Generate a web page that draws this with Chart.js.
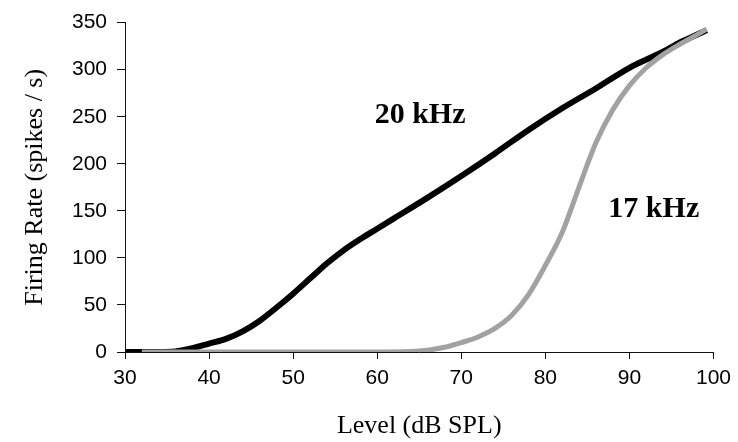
<!DOCTYPE html>
<html>
<head>
<meta charset="utf-8">
<title>Firing rate vs level</title>
<script src="https://cdn.jsdelivr.net/npm/chart.js@4/dist/chart.umd.min.js"></script>
<style>
  html, body { margin: 0; padding: 0; background: #fff; }
  #wrap { width: 738px; height: 442px; position: relative; }
</style>
</head>
<body>
<div id="wrap"><canvas id="c"></canvas></div>
<script>
// Sound level (dB SPL) and firing rate (spikes/s) for the 20 kHz tone
const level20 = [30, 32, 34, 36, 38, 40, 42, 44, 46, 48, 50, 52, 54, 56, 58, 60, 62, 66, 70, 74, 78, 82, 86, 90, 94, 96, 98, 99.2];
const rate20  = [0, 0, 0, 0.5, 4, 9, 14, 22, 33, 47, 62, 78, 94, 108, 120, 131, 142, 164, 187, 211, 236, 259, 280, 302, 319, 329, 337, 342];

// Sound level (dB SPL) and firing rate (spikes/s) for the 17 kHz tone
const level17 = [32, 40, 50, 60, 64, 66, 68, 70, 72, 74, 76, 78, 80, 82, 84, 86, 88, 90, 92, 94, 96, 98, 99.2];
const rate17  = [0, 0, 0, 0, 0.5, 2, 5, 10, 16, 25, 39, 61, 92, 127, 175, 222, 257, 283, 302, 316, 327, 337, 343];

const seriesNames = ['20 kHz', '17 kHz'];
const xTicks = [30, 40, 50, 60, 70, 80, 90, 100];
const yTicks = [0, 50, 100, 150, 200, 250, 300, 350];

// Where each curve's name is written, in data units
const nameAnchors = [
  { x: 65.1, y: 252 },
  { x: 92.9, y: 152 }
];

const toPoints = (xs, ys) => xs.map((x, i) => ({ x: x, y: ys[i] }));

const curveLabels = {
  id: 'curveLabels',
  afterDatasetsDraw(chart) {
    const { ctx, scales } = chart;
    ctx.save();
    ctx.fillStyle = '#000';
    ctx.font = 'bold 30px "Liberation Serif", "Times New Roman", serif';
    ctx.textAlign = 'center';
    ctx.textBaseline = 'middle';
    seriesNames.forEach((name, i) => {
      const a = nameAnchors[i];
      ctx.fillText(name, scales.x.getPixelForValue(a.x), scales.y.getPixelForValue(a.y));
    });
    ctx.restore();
  }
};

Chart.defaults.font.family = '"Liberation Sans", Arial, sans-serif';
Chart.defaults.color = '#000';

new Chart(document.getElementById('c'), {
  type: 'line',
  data: {
    datasets: [
      {
        label: seriesNames[0],
        data: toPoints(level20, rate20),
        borderColor: '#000000',
        borderWidth: 6,
        pointRadius: 0,
        cubicInterpolationMode: 'monotone',
        borderCapStyle: 'butt',
        order: 1
      },
      {
        label: seriesNames[1],
        data: toPoints(level17, rate17),
        borderColor: '#a2a2a2',
        borderWidth: 5,
        pointRadius: 0,
        cubicInterpolationMode: 'monotone',
        borderCapStyle: 'butt',
        order: 0
      }
    ]
  },
  options: {
    responsive: true,
    maintainAspectRatio: false,
    devicePixelRatio: 1,
    animation: false,
    layout: { padding: { top: 22, right: 22, left: 0, bottom: 0 } },
    plugins: { legend: { display: false }, tooltip: { enabled: false } },
    scales: {
      x: {
        type: 'linear',
        min: xTicks[0],
        max: xTicks[xTicks.length - 1],
        afterBuildTicks: (s) => { s.ticks = xTicks.map(v => ({ value: v })); },
        afterFit: (s) => { s.height = 90; },
        border: { display: true, color: '#111', width: 1 },
        grid: { drawOnChartArea: false, drawTicks: true, tickLength: 7, color: '#111' },
        ticks: { font: { size: 21 }, color: '#000', padding: 7, maxRotation: 0 },
        title: {
          display: true,
          text: 'Level (dB SPL)',
          font: { family: '"Liberation Serif", "Times New Roman", serif', size: 26 },
          color: '#000',
          padding: { top: 0, bottom: 0 }
        }
      },
      y: {
        type: 'linear',
        min: yTicks[0],
        max: yTicks[yTicks.length - 1],
        afterBuildTicks: (s) => { s.ticks = yTicks.map(v => ({ value: v })); },
        afterFit: (s) => { s.width = 125; },
        border: { display: true, color: '#111', width: 1 },
        grid: { drawOnChartArea: false, drawTicks: true, tickLength: 8, color: '#111' },
        ticks: { font: { size: 21 }, color: '#000', padding: 10 },
        title: {
          display: true,
          text: 'Firing Rate (spikes / s)',
          font: { family: '"Liberation Serif", "Times New Roman", serif', size: 26 },
          color: '#000',
          padding: { top: 20, bottom: 0 }
        }
      }
    }
  },
  plugins: [curveLabels]
});
</script>
</body>
</html>
